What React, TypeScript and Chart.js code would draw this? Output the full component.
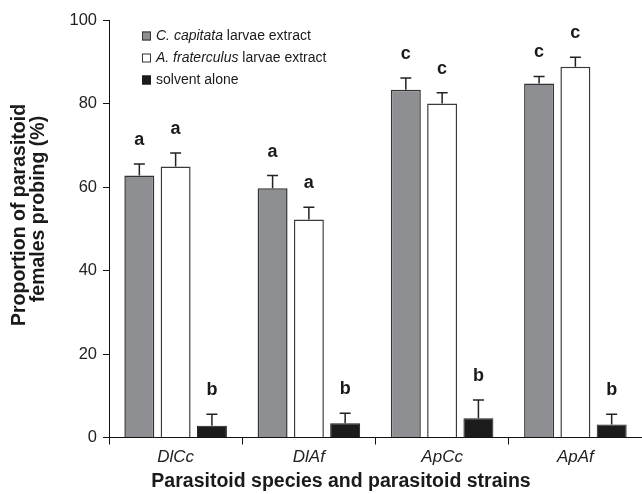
import React, { useEffect, useRef } from "react";
import { Chart, registerables } from "chart.js";

Chart.register(...registerables);

const categories = ["DlCc", "DlAf", "ApCc", "ApAf"];
const capitataMeans = [62.8, 59.8, 83.4, 84.9];
const capitataErr = [2.8, 3.0, 2.8, 1.7];
const fraterculusMeans = [65.0, 52.3, 80.1, 88.9];
const fraterculusErr = [3.2, 2.9, 2.6, 2.3];
const solventMeans = [2.8, 3.4, 4.6, 3.1];
const solventErr = [2.8, 2.4, 4.4, 2.5];
const capitataLetters = ["a", "a", "c", "c"];
const fraterculusLetters = ["a", "a", "c", "c"];
const solventLetters = ["b", "b", "b", "b"];
const yMin = 0;
const yMax = 100;
const yStep = 20;

const FONT = '"Liberation Sans", Arial, sans-serif';

const errors = [capitataErr, fraterculusErr, solventErr];
const letters = [capitataLetters, fraterculusLetters, solventLetters];

const legendItems = [
  { italic: "C. capitata", rest: " larvae extract", fill: "#8e8f93", stroke: "#333333" },
  { italic: "A. fraterculus", rest: " larvae extract", fill: "#ffffff", stroke: "#333333" },
  { italic: "", rest: "solvent alone", fill: "#1c1c1c", stroke: "#1c1c1c" },
];

const decorPlugin = {
  id: "decor",
  afterDatasetsDraw(chart: any) {
    const ctx = chart.ctx;
    const y = chart.scales.y;
    chart.data.datasets.forEach((ds: any, di: number) => {
      const meta = chart.getDatasetMeta(di);
      meta.data.forEach((bar: any, i: number) => {
        const v = ds.data[i];
        const e = errors[di][i];
        const top = y.getPixelForValue(v + e);
        const x = bar.x;
        ctx.save();
        ctx.strokeStyle = "#222";
        ctx.lineWidth = 1.5;
        ctx.beginPath();
        ctx.moveTo(x, bar.y);
        ctx.lineTo(x, top);
        ctx.moveTo(x - 5.5, top);
        ctx.lineTo(x + 5.5, top);
        ctx.stroke();
        ctx.fillStyle = "#1a1a1a";
        ctx.font = `bold 18px ${FONT}`;
        ctx.textAlign = "center";
        ctx.textBaseline = "alphabetic";
        ctx.fillText(letters[di][i], x, top - 19);
        ctx.restore();
      });
    });
  },
  afterDraw(chart: any) {
    const ctx = chart.ctx;
    ctx.save();
    // legend
    const rowY = [36, 58, 80];
    legendItems.forEach((it, k) => {
      const cy = rowY[k];
      ctx.fillStyle = it.fill;
      ctx.fillRect(142, cy - 4.5, 9, 9);
      ctx.strokeStyle = it.stroke;
      ctx.lineWidth = 1;
      ctx.strokeRect(142.5, cy - 4, 8, 8);
      ctx.fillStyle = "#1a1a1a";
      ctx.textBaseline = "middle";
      ctx.textAlign = "left";
      let tx = 156;
      if (it.italic) {
        ctx.font = `italic 14px ${FONT}`;
        ctx.fillText(it.italic, tx, cy);
        tx += ctx.measureText(it.italic).width;
      }
      ctx.font = `14px ${FONT}`;
      ctx.fillText(it.rest, tx, cy);
    });
    // y title
    ctx.fillStyle = "#1a1a1a";
    ctx.font = `bold 19.5px ${FONT}`;
    ctx.textAlign = "center";
    ctx.textBaseline = "middle";
    ctx.save();
    ctx.translate(20, 215);
    ctx.rotate(-Math.PI / 2);
    ctx.fillText("Proportion of parasitoid", 0, 0);
    ctx.restore();
    ctx.save();
    ctx.translate(39, 209);
    ctx.rotate(-Math.PI / 2);
    ctx.fillText("females probing (%)", 0, 0);
    ctx.restore();
    // x title
    ctx.font = `bold 19.5px ${FONT}`;
    ctx.fillText("Parasitoid species and parasitoid strains", 341, 482);
    ctx.restore();
  },
};

export default function App() {
  const ref = useRef<HTMLCanvasElement | null>(null);
  useEffect(() => {
    if (!ref.current) return;
    const chart = new Chart(ref.current, {
      type: "bar",
      data: {
        labels: categories,
        datasets: [
          {
            label: "C. capitata larvae extract",
            data: capitataMeans,
            backgroundColor: "#8e8f93",
            borderColor: "#333333",
            borderWidth: 1.5,
            borderSkipped: "bottom",
          },
          {
            label: "A. fraterculus larvae extract",
            data: fraterculusMeans,
            backgroundColor: "#ffffff",
            borderColor: "#3a3a3a",
            borderWidth: 1.5,
            borderSkipped: "bottom",
          },
          {
            label: "solvent alone",
            data: solventMeans,
            backgroundColor: "#1c1c1c",
            borderColor: "#1c1c1c",
            borderWidth: 1,
            borderSkipped: "bottom",
          },
        ],
      },
      options: {
        responsive: false,
        animation: false,
        devicePixelRatio: 1,
        layout: { padding: { top: 20.5, right: 0, left: 0, bottom: 0 } },
        datasets: { bar: { categoryPercentage: 0.817, barPercentage: 0.826 } },
        plugins: { legend: { display: false }, tooltip: { enabled: false } },
        scales: {
          x: {
            afterFit: (s: any) => {
              s.height = 56.5;
            },
            grid: {
              offset: true,
              drawOnChartArea: false,
              drawTicks: true,
              tickLength: 7,
              tickColor: "#111",
            },
            border: { display: true, color: "#111", width: 1 },
            ticks: {
              color: "#222",
              padding: 3,
              font: { family: FONT, size: 17, style: "italic" },
            },
          },
          y: {
            min: yMin,
            max: yMax,
            afterFit: (s: any) => {
              s.width = 109;
            },
            grid: {
              drawOnChartArea: false,
              drawTicks: true,
              tickLength: 6,
              tickColor: "#111",
            },
            border: { display: true, color: "#111", width: 1 },
            ticks: {
              stepSize: yStep,
              color: "#222",
              padding: 6,
              font: { family: FONT, size: 16.5 },
            },
          },
        },
      },
      plugins: [decorPlugin],
    });
    return () => chart.destroy();
  }, []);
  return (
    <div style={{ position: "fixed", left: 0, top: 0, width: 642, height: 494, background: "#fff" }}>
      <canvas ref={ref} width={642} height={494} style={{ display: "block" }} />
    </div>
  );
}
